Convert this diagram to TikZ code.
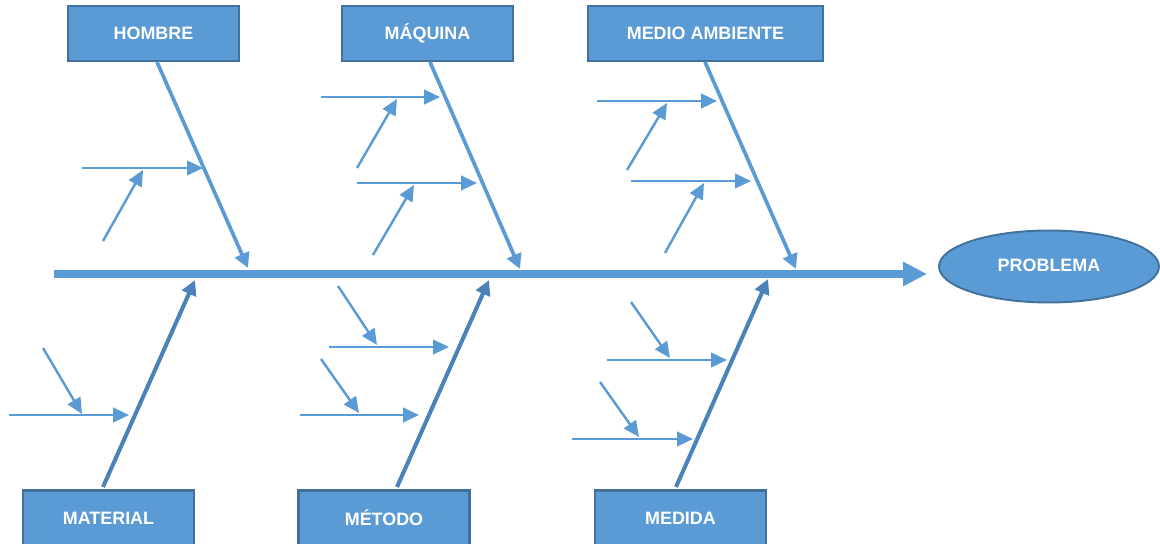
\documentclass[tikz,border=0pt]{standalone}
\usepackage{fontspec}
\setmainfont{Liberation Sans}
\usetikzlibrary{arrows.meta, shapes.geometric}
\definecolor{bluefill}{HTML}{5B9BD5}
\definecolor{blueline}{HTML}{41719C}
\definecolor{bonedark}{HTML}{4C82BA}

\begin{document}
\begin{tikzpicture}[x=0.02cm, y=-0.02cm,
    cause/.style={rectangle, draw=blueline, line width=1.2pt, fill=bluefill,
      text=white, font=\bfseries\fontsize{10.2}{12}\selectfont,
      minimum width=3.42cm, minimum height=1.1cm, inner sep=0pt},
    effect/.style={ellipse, draw=blueline, line width=1.1pt, fill=bluefill,
      text=white, font=\bfseries\fontsize{10.2}{12}\selectfont,
      minimum width=4.4cm, minimum height=1.44cm, inner sep=0pt},
    spine/.style={color=bluefill, line width=4.2pt, -{Triangle[length=13.6pt, width=13pt]}},
    bone/.style={color=bluefill, line width=2.1pt, -{Triangle[length=8.5pt, width=8.5pt]}},
    lowbone/.style={bone, color=bonedark, line width=2.3pt},
    sub/.style={color=bluefill, line width=1.4pt, -{Triangle[length=9pt, width=8.2pt]}}]

  \useasboundingbox (0,0) rectangle (1160,544);

  % causes and effect
  \node[cause] (hombre) at (153.5,33.5) {HOMBRE};
  \node[cause] (maquina) at (427.5,33.5) {MÁQUINA};
  \node[cause, minimum width=4.7cm] (medio) at (705.5,33.5) {MEDIO AMBIENTE};
  \node[cause] (material) at (108.5,518) {MATERIAL};
  \node[cause] (metodo) at (384,518) {MÉTODO};
  \node[cause] (medida) at (680.5,518) {MEDIDA};
  \node[effect] (problema) at (1049,266.5) {\raisebox{2pt}{PROBLEMA}};

  % spine
  \coordinate (sp-s) at (54,274);
  \coordinate (sp-e) at (927,274);
  \draw[spine] (sp-s) -- (sp-e);

  % main bones
  \coordinate (hom-s) at (157,62);   \coordinate (hom-e) at (248,268);
  \coordinate (maq-s) at (430,62);   \coordinate (maq-e) at (520,269);
  \coordinate (med-s) at (705,62);   \coordinate (med-e) at (796,269);
  \coordinate (mat-s) at (103,487);  \coordinate (mat-e) at (195,280);
  \coordinate (met-s) at (397,487);  \coordinate (met-e) at (489,280);
  \coordinate (mdd-s) at (676,487);  \coordinate (mdd-e) at (768,279);
  \draw[bone] (hom-s) -- (hom-e);
  \draw[bone] (maq-s) -- (maq-e);
  \draw[bone] (med-s) -- (med-e);
  \draw[lowbone] (mat-s) -- (mat-e);
  \draw[lowbone] (met-s) -- (met-e);
  \draw[lowbone] (mdd-s) -- (mdd-e);

  % hombre
  \coordinate (hom-h1s) at (82,168);  \coordinate (hom-h1e) at (203,168);
  \coordinate (hom-d1s) at (103,241); \coordinate (hom-d1e) at (143,170);
  \draw[sub] (hom-h1s) -- (hom-h1e);
  \draw[sub] (hom-d1s) -- (hom-d1e);

  % maquina
  \coordinate (maq-h1s) at (321,97);  \coordinate (maq-h1e) at (440,97);
  \coordinate (maq-d1s) at (357,168); \coordinate (maq-d1e) at (397,99);
  \coordinate (maq-h2s) at (357,183); \coordinate (maq-h2e) at (477,183);
  \coordinate (maq-d2s) at (373,255); \coordinate (maq-d2e) at (414,185);
  \draw[sub] (maq-h1s) -- (maq-h1e);
  \draw[sub] (maq-d1s) -- (maq-d1e);
  \draw[sub] (maq-h2s) -- (maq-h2e);
  \draw[sub] (maq-d2s) -- (maq-d2e);

  % medio ambiente
  \coordinate (med-h1s) at (597,101); \coordinate (med-h1e) at (717,101);
  \coordinate (med-d1s) at (627,170); \coordinate (med-d1e) at (667,103);
  \coordinate (med-h2s) at (631,181); \coordinate (med-h2e) at (751,181);
  \coordinate (med-d2s) at (665,253); \coordinate (med-d2e) at (704,183);
  \draw[sub] (med-h1s) -- (med-h1e);
  \draw[sub] (med-d1s) -- (med-d1e);
  \draw[sub] (med-h2s) -- (med-h2e);
  \draw[sub] (med-d2s) -- (med-d2e);

  % material
  \coordinate (mat-h1s) at (9,415);   \coordinate (mat-h1e) at (129,415);
  \coordinate (mat-d1s) at (43,348);  \coordinate (mat-d1e) at (82,414);
  \draw[sub] (mat-h1s) -- (mat-h1e);
  \draw[sub] (mat-d1s) -- (mat-d1e);

  % metodo
  \coordinate (met-h1s) at (329,347); \coordinate (met-h1e) at (449,347);
  \coordinate (met-d1s) at (338,286); \coordinate (met-d1e) at (377,345);
  \coordinate (met-h2s) at (300,415); \coordinate (met-h2e) at (419,415);
  \coordinate (met-d2s) at (321,359); \coordinate (met-d2e) at (359,413);
  \draw[sub] (met-h1s) -- (met-h1e);
  \draw[sub] (met-d1s) -- (met-d1e);
  \draw[sub] (met-h2s) -- (met-h2e);
  \draw[sub] (met-d2s) -- (met-d2e);

  % medida
  \coordinate (mdd-h1s) at (607,360); \coordinate (mdd-h1e) at (727,360);
  \coordinate (mdd-d1s) at (631,302); \coordinate (mdd-d1e) at (670,358);
  \coordinate (mdd-h2s) at (572,439); \coordinate (mdd-h2e) at (693,439);
  \coordinate (mdd-d2s) at (600,382); \coordinate (mdd-d2e) at (639,437);
  \draw[sub] (mdd-h1s) -- (mdd-h1e);
  \draw[sub] (mdd-d1s) -- (mdd-d1e);
  \draw[sub] (mdd-h2s) -- (mdd-h2e);
  \draw[sub] (mdd-d2s) -- (mdd-d2e);
\end{tikzpicture}
\end{document}
